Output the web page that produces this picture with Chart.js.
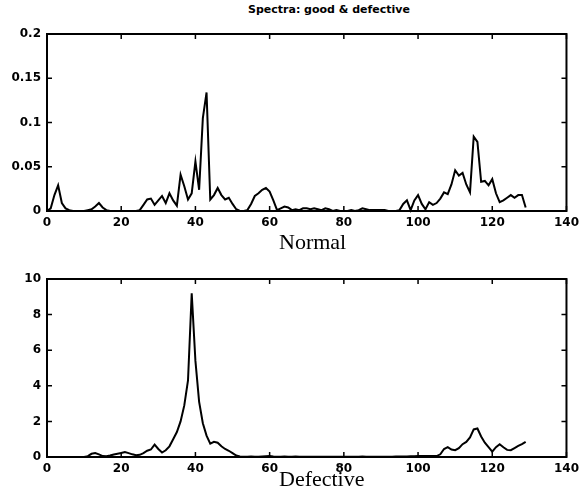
<!DOCTYPE html>
<html>
<head>
<meta charset="utf-8">
<script src="https://cdn.jsdelivr.net/npm/chart.js@4"></script>
<style>
  html, body { margin: 0; padding: 0; background: #fff; }
  #wrap { position: relative; width: 584px; height: 504px; background: #fff; overflow: hidden; }
  .panel { position: absolute; left: 0; width: 584px; }
  #title {
    position: absolute; top: 3px; left: 248px; white-space: nowrap;
    font: bold 11px "DejaVu Sans", sans-serif; color: #000;
  }
  .xlab {
    position: absolute; left: 279px; white-space: nowrap;
    font: 22px "Liberation Serif", "Times New Roman", serif; color: #000;
  }
</style>
</head>
<body>
<div id="wrap">
  <div id="title">Spectra: good &amp; defective</div>
  <div class="panel" style="top:0;height:260px"><canvas id="cNormal" width="584" height="260"></canvas></div>
  <div class="panel" style="top:260px;height:244px"><canvas id="cDefect" width="584" height="244"></canvas></div>
  <div class="xlab" style="top:229px">Normal</div>
  <div class="xlab" style="top:466px">Defective</div>
</div>
<script>
// Spectrum amplitudes per frequency bin (bins 0..129)
const normalSpectrum = [
  0.000, 0.003, 0.018, 0.029, 0.009, 0.003, 0.001, 0.000, 0.000, 0.000,
  0.000, 0.001, 0.002, 0.005, 0.009, 0.004, 0.001, 0.000, 0.000, 0.000,
  0.000, 0.000, 0.000, 0.000, 0.000, 0.001, 0.007, 0.013, 0.014, 0.007,
  0.012, 0.017, 0.009, 0.020, 0.012, 0.006, 0.041, 0.028, 0.013, 0.020,
  0.056, 0.024, 0.105, 0.134, 0.013, 0.018, 0.026, 0.018, 0.013, 0.015,
  0.008, 0.002, 0.000, 0.000, 0.001, 0.008, 0.017, 0.020, 0.024, 0.026,
  0.022, 0.012, 0.001, 0.003, 0.005, 0.004, 0.001, 0.002, 0.001, 0.003,
  0.003, 0.002, 0.003, 0.002, 0.001, 0.003, 0.002, 0.000, 0.001, 0.000,
  0.000, 0.000, 0.001, 0.000, 0.001, 0.003, 0.002, 0.001, 0.001, 0.001,
  0.001, 0.001, 0.000, 0.000, 0.000, 0.001, 0.008, 0.012, 0.001, 0.012,
  0.018, 0.008, 0.002, 0.010, 0.007, 0.009, 0.014, 0.021, 0.019, 0.030,
  0.046, 0.040, 0.043, 0.030, 0.021, 0.084, 0.078, 0.033, 0.034, 0.029,
  0.036, 0.020, 0.010, 0.012, 0.015, 0.018, 0.015, 0.018, 0.018, 0.004
];
const defectiveSpectrum = [
  0.00, 0.00, 0.00, 0.00, 0.00, 0.00, 0.00, 0.00, 0.00, 0.00,
  0.00, 0.05, 0.18, 0.22, 0.15, 0.05, 0.04, 0.08, 0.14, 0.18,
  0.22, 0.28, 0.22, 0.15, 0.10, 0.12, 0.22, 0.35, 0.42, 0.70,
  0.45, 0.25, 0.38, 0.60, 1.00, 1.40, 2.00, 2.90, 4.30, 9.20,
  5.40, 3.10, 1.90, 1.20, 0.75, 0.85, 0.80, 0.60, 0.45, 0.35,
  0.22, 0.08, 0.03, 0.02, 0.02, 0.03, 0.02, 0.02, 0.03, 0.04,
  0.05, 0.03, 0.02, 0.02, 0.03, 0.02, 0.02, 0.03, 0.02, 0.02,
  0.02, 0.02, 0.02, 0.02, 0.02, 0.02, 0.02, 0.02, 0.02, 0.02,
  0.02, 0.02, 0.02, 0.02, 0.02, 0.03, 0.02, 0.02, 0.02, 0.02,
  0.02, 0.02, 0.02, 0.02, 0.03, 0.03, 0.03, 0.03, 0.04, 0.04,
  0.05, 0.05, 0.05, 0.05, 0.05, 0.05, 0.15, 0.45, 0.55, 0.42,
  0.38, 0.50, 0.72, 0.85, 1.10, 1.55, 1.60, 1.15, 0.80, 0.55,
  0.30, 0.55, 0.72, 0.55, 0.40, 0.38, 0.50, 0.62, 0.72, 0.85
];
const freqBins = normalSpectrum.map((_, i) => i);

// Axis ticks
const xTickValues = [0, 20, 40, 60, 80, 100, 120, 140];
const xTickLabels = ['0', '20', '40', '60', '80', '100', '120', '140'];
const normalYTickValues = [0, 0.05, 0.1, 0.15, 0.2];
const normalYTickLabels = ['0', '0.05', '0.1', '0.15', '0.2'];
const defectYTickValues = [0, 2, 4, 6, 8, 10];
const defectYTickLabels = ['0', '2', '4', '6', '8', '10'];

const tickFont = { family: '"DejaVu Sans", sans-serif', size: 12, weight: 'bold' };

// Box frame with inward-pointing ticks on all four sides
const boxedAxes = {
  id: 'boxedAxes',
  afterDraw(chart) {
    const { ctx, chartArea: a, scales } = chart;
    const len = 5;
    ctx.save();
    ctx.strokeStyle = '#000';
    ctx.lineWidth = 1.5;
    ctx.beginPath();
    scales.x.ticks.forEach(t => {
      const px = scales.x.getPixelForValue(t.value);
      ctx.moveTo(px, a.bottom); ctx.lineTo(px, a.bottom - len);
      ctx.moveTo(px, a.top); ctx.lineTo(px, a.top + len);
    });
    scales.y.ticks.forEach(t => {
      const py = scales.y.getPixelForValue(t.value);
      ctx.moveTo(a.left, py); ctx.lineTo(a.left + len, py);
      ctx.moveTo(a.right, py); ctx.lineTo(a.right - len, py);
    });
    ctx.stroke();
    ctx.lineWidth = 2;
    ctx.strokeRect(a.left, a.top, a.right - a.left, a.bottom - a.top);
    ctx.restore();
  }
};

function makeSpectrumChart(canvasId, values, yMax, yTickValues, yTickLabels, pad) {
  const points = freqBins.map((b, i) => ({ x: b, y: values[i] }));
  return new Chart(document.getElementById(canvasId), {
    type: 'line',
    data: {
      datasets: [{
        data: points,
        borderColor: '#000',
        borderWidth: 2,
        pointRadius: 0,
        tension: 0,
        fill: false,
        clip: 3
      }]
    },
    options: {
      responsive: false,
      animation: false,
      events: [],
      layout: { padding: pad },
      plugins: { legend: { display: false }, tooltip: { enabled: false }, title: { display: false } },
      scales: {
        x: {
          type: 'linear', min: 0, max: 140,
          afterBuildTicks: s => { s.ticks = xTickValues.map(v => ({ value: v })); },
          afterFit: s => { s.height = 22; },
          border: { display: false },
          grid: { display: false, drawTicks: false },
          ticks: {
            color: '#000', font: tickFont, padding: 5, maxRotation: 0, autoSkip: false,
            callback: (v, i) => xTickLabels[i]
          }
        },
        y: {
          type: 'linear', min: 0, max: yMax,
          afterBuildTicks: s => { s.ticks = yTickValues.map(v => ({ value: v })); },
          afterFit: s => { s.width = 47; },
          border: { display: false },
          grid: { display: false, drawTicks: false },
          ticks: {
            color: '#000', font: tickFont, padding: 6, autoSkip: false,
            callback: (v, i) => yTickLabels[i]
          }
        }
      }
    },
    plugins: [boxedAxes]
  });
}

makeSpectrumChart('cNormal', normalSpectrum, 0.2, normalYTickValues, normalYTickLabels,
  { top: 34, right: 12.5, bottom: 27, left: 0 });
makeSpectrumChart('cDefect', defectiveSpectrum, 10, defectYTickValues, defectYTickLabels,
  { top: 19, right: 12.5, bottom: 25, left: 0 });
</script>
</body>
</html>
